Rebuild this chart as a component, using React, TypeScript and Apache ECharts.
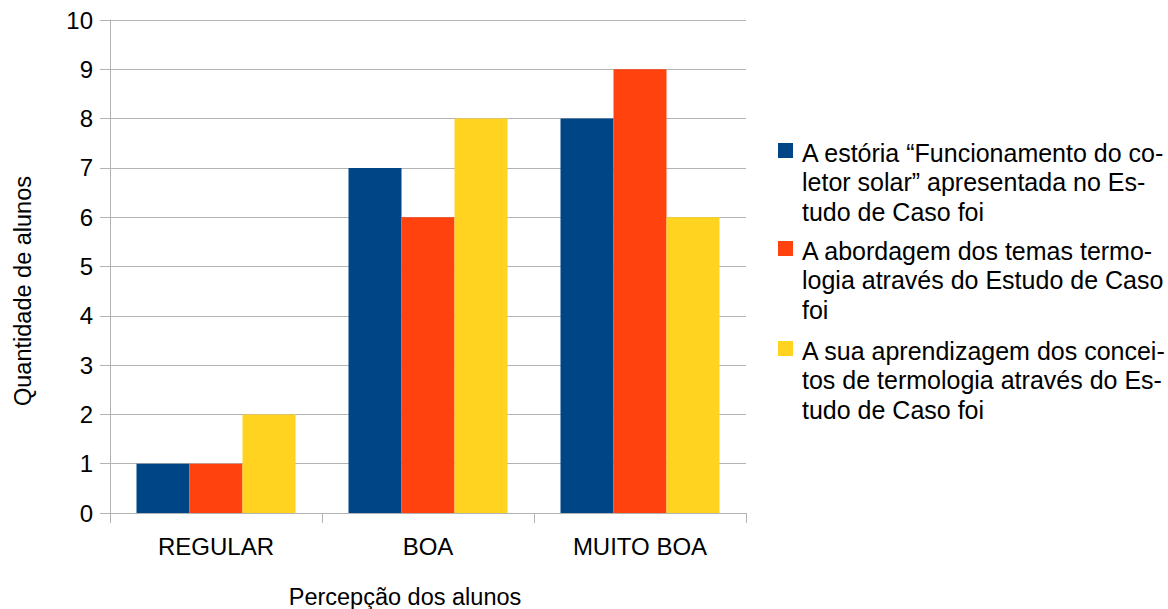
import React, { useEffect, useRef } from "react";
import * as echarts from "echarts";

const categories = ["REGULAR", "BOA", "MUITO BOA"];
const seriesNames = [
  "A estória “Funcionamento do coletor solar” apresentada no Estudo de Caso foi",
  "A abordagem dos temas termologia através do Estudo de Caso foi",
  "A sua aprendizagem dos conceitos de termologia através do Estudo de Caso foi",
];
const legendLines = [
  ["A estória “Funcionamento do co-", "letor solar” apresentada no Es-", "tudo de Caso foi"],
  ["A abordagem dos temas termo-", "logia através do Estudo de Caso", "foi"],
  ["A sua aprendizagem dos concei-", "tos de termologia através do Es-", "tudo de Caso foi"],
];
const seriesA = [1, 7, 8];
const seriesB = [1, 6, 9];
const seriesC = [2, 8, 6];
const colors = ["#004586", "#ff420e", "#ffd320"];
const yAxisTitle = "Quantidade de alunos";
const xAxisTitle = "Percepção dos alunos";

export default function App() {
  const ref = useRef<HTMLDivElement>(null);
  useEffect(() => {
    if (!ref.current) return;
    const chart = echarts.init(ref.current, null, { renderer: "svg" });
    const font = "'Liberation Sans', Arial, sans-serif";
    const values = [seriesA, seriesB, seriesC];
    const legendTops = [138, 236, 336];
    const legendGraphics: any[] = [];
    legendLines.forEach((lines, i) => {
      legendGraphics.push({
        type: "rect",
        shape: { x: 778, y: legendTops[i] + 5, width: 15, height: 15 },
        style: { fill: colors[i] },
      });
      legendGraphics.push({
        type: "text",
        x: 802,
        y: legendTops[i],
        style: {
          text: lines.join("\n"),
          fontSize: 25,
          fontFamily: font,
          lineHeight: 29.5,
          fill: "#000",
          verticalAlign: "top",
          align: "left",
        },
      });
    });
    chart.setOption({
      animation: false,
      color: colors,
      grid: { left: 110, right: 422, top: 20, bottom: 96, containLabel: false },
      xAxis: {
        type: "category",
        data: categories,
        axisLine: { lineStyle: { color: "#b3b3b3", width: 1 } },
        axisTick: { show: true, length: 10, lineStyle: { color: "#b3b3b3" } },
        axisLabel: { color: "#000", fontSize: 24, fontFamily: font, margin: 21 },
      },
      yAxis: {
        type: "value",
        min: 0,
        max: 10,
        interval: 1,
        axisLine: { show: true, lineStyle: { color: "#b3b3b3", width: 1 } },
        axisTick: { show: true, length: 10, lineStyle: { color: "#b3b3b3" } },
        axisLabel: { color: "#000", fontSize: 24, fontFamily: font, margin: 17 },
        splitLine: { show: true, lineStyle: { color: "#b3b3b3", width: 1 } },
      },
      series: values.map((v, i) => ({
        name: seriesNames[i],
        type: "bar",
        data: v,
        barGap: "0%",
        barCategoryGap: "25%",
        itemStyle: { color: colors[i] },
      })),
      graphic: [
        ...legendGraphics,
        {
          type: "text",
          x: 23,
          y: 291,
          rotation: Math.PI / 2,
          style: {
            text: yAxisTitle,
            fontSize: 23.5,
            fontFamily: font,
            fill: "#000",
            align: "center",
            verticalAlign: "middle",
          },
        },
        {
          type: "text",
          x: 405,
          y: 597,
          style: {
            text: xAxisTitle,
            fontSize: 23.5,
            fontFamily: font,
            fill: "#000",
            align: "center",
            verticalAlign: "middle",
          },
        },
      ],
    });
    return () => chart.dispose();
  }, []);
  return (
    <div
      ref={ref}
      style={{ position: "fixed", left: 0, top: 0, width: 1168, height: 609, background: "#fff" }}
    />
  );
}
